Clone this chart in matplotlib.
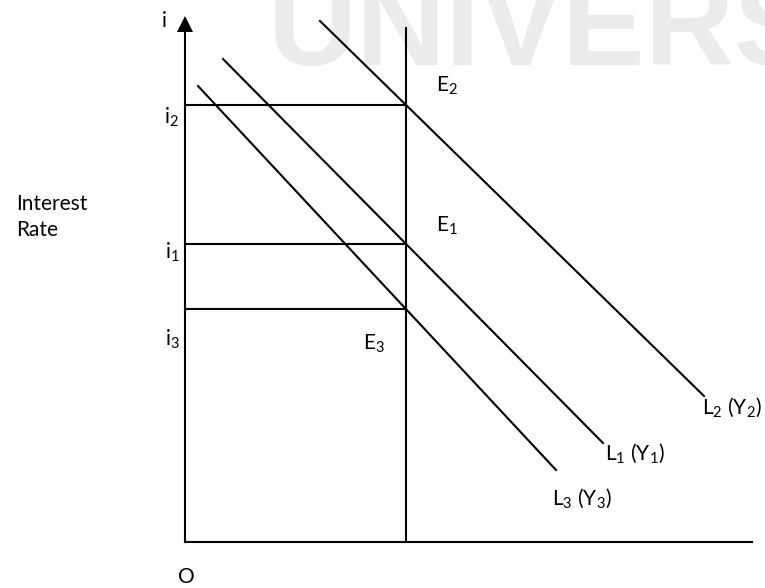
import matplotlib
matplotlib.use("Agg")
import matplotlib.pyplot as plt

plt.rcParams['font.family'] = ['Lato', 'DejaVu Sans']
plt.rcParams['mathtext.fontset'] = 'custom'
plt.rcParams['mathtext.rm'] = 'Lato'
plt.rcParams['mathtext.it'] = 'Lato:italic'

# ---- data (money on x, interest rate on y; origin at O) ----
money_supply = 221                      # vertical money-supply line position
money_top = 514
axis_x_end = 567
axis_y_top = 518

rate_levels = [437, 298, 233]           # i2, i1, i3
rate_labels = ["i$_2$", "i$_1$", "i$_3$"]

# liquidity preference curves: (x_start, x_end), (y_start, y_end)
L2_x = [135, 519]; L2_y = [521, 146]
L1_x = [38, 418];  L1_y = [483, 99]
L3_x = [13, 371];  L3_y = [456, 72]
curve_labels = ["L$_2$ (Y$_2$)", "L$_1$ (Y$_1$)", "L$_3$ (Y$_3$)"]
eq_labels = ["E$_2$", "E$_1$", "E$_3$"]

fig = plt.figure(figsize=(7.65, 5.88), dpi=100)
ax = fig.add_axes([0, 0, 1, 1])
ax.set_xlim(-185, 580)
ax.set_ylim(-46, 542)
ax.axis('off')

# watermark
ax.text(83, 477, "UNIVERSITY", fontsize=89, fontweight='bold',
        family='Liberation Sans', color='#ebebeb', ha='left', va='baseline', zorder=0)

lw = 1.5
# axes
ax.plot([0, 0], [0, axis_y_top], color='black', lw=lw)
ax.plot([0], [axis_y_top], marker='^', color='black', ms=11, mew=0)
ax.plot([0, axis_x_end], [0, 0], color='black', lw=lw)
# money supply
ax.plot([money_supply, money_supply], [0, money_top], color='black', lw=lw)
# interest rate levels
for r in rate_levels:
    ax.plot([0, money_supply], [r, r], color='black', lw=lw)
# curves
for xs, ys in [(L2_x, L2_y), (L1_x, L1_y), (L3_x, L3_y)]:
    ax.plot(xs, ys, color='black', lw=lw)

fs = 15
ax.text(-21, 515, "i", fontsize=fs, ha='center', va='baseline')
rate_text_pos = [(-14, 418), (-13, 283), (-13, 196)]
for (x, y), t in zip(rate_text_pos, rate_labels):
    ax.text(x, y, t, fontsize=fs, ha='center', va='baseline')

eq_pos = [(251, 450), (251, 310), (178, 192)]
for (x, y), t in zip(eq_pos, eq_labels):
    ax.text(x, y, t, fontsize=fs, ha='left', va='baseline')

curve_pos = [(517, 128), (420, 82), (367, 37)]
for (x, y), t in zip(curve_pos, curve_labels):
    ax.text(x, y, t, fontsize=fs, ha='left', va='baseline')

ax.text(-169, 332, "Interest", fontsize=fs, ha='left', va='baseline')
ax.text(-169, 306, "Rate", fontsize=fs, ha='left', va='baseline')
ax.text(1, -41, "O", fontsize=fs, ha='center', va='baseline')

fig.savefig("out.png", dpi=100)
